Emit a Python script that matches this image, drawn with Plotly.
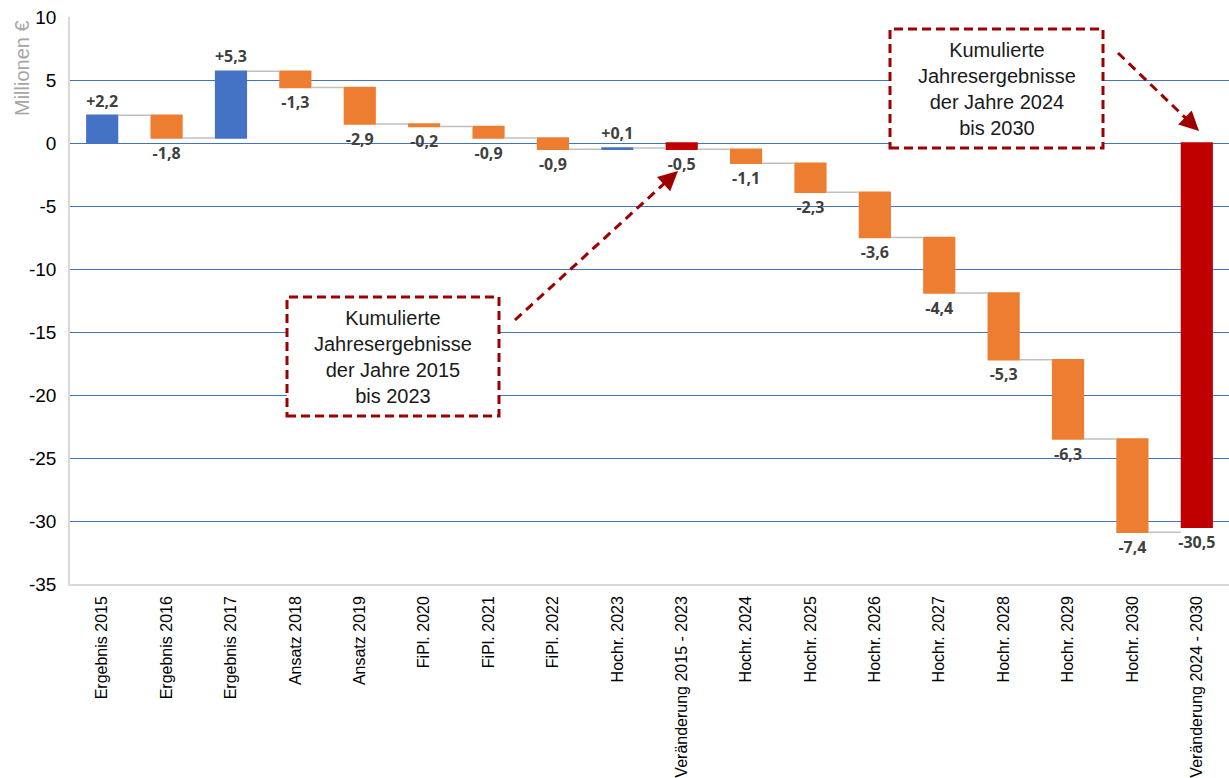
import plotly.graph_objects as go
import math

categories = ["Ergebnis 2015", "Ergebnis 2016", "Ergebnis 2017", "Ansatz 2018", "Ansatz 2019",
              "FiPl. 2020", "FiPl. 2021", "FiPl. 2022", "Hochr. 2023", "Veränderung 2015 - 2023",
              "Hochr. 2024", "Hochr. 2025", "Hochr. 2026", "Hochr. 2027", "Hochr. 2028",
              "Hochr. 2029", "Hochr. 2030", "Veränderung 2024 - 2030"]
values = [2.2, -1.8, 5.3, -1.3, -2.9, -0.2, -0.9, -0.9, 0.1, -0.5,
          -1.1, -2.3, -3.6, -4.4, -5.3, -6.3, -7.4, -30.5]
measures = ["relative"] * 9 + ["absolute"] + ["relative"] * 7 + ["absolute"]
ytick_vals = [10, 5, 0, -5, -10, -15, -20, -25, -30, -35]
ytick_text = ["10", "5", "0", "-5", "-10", "-15", "-20", "-25", "-30", "-35"]
box1_text = "Kumulierte<br>Jahresergebnisse<br>der Jahre 2015<br>bis 2023"
box2_text = "Kumulierte<br>Jahresergebnisse<br>der Jahre 2024<br>bis 2030"


def fmt(v):
    s = f"{v:.1f}".replace(".", ",")
    if v > 0:
        s = "+" + s
    return s


labels = [fmt(v) for v in values]

W, H = 1229, 778
L, R, T, B = 70, 0, 17, 194
PW, PH = W - L - R, H - T - B


def px(x):
    return (x - L) / PW


def py(y):
    return (H - B - y) / PH


BLUE, ORANGE, RED = "#4472C4", "#ED7D31", "#C00000"
DARKRED = "#9E0000"
FONT = "Liberation Sans, Arial, sans-serif"

fig = go.Figure(go.Waterfall(
    x=categories, y=values, measure=measures,
    text=labels, textposition="outside", constraintext="none", cliponaxis=False,
    textfont=dict(family="Open Sans, sans-serif", size=16, color="#404040", weight="bold"),
    increasing=dict(marker=dict(color=BLUE)),
    decreasing=dict(marker=dict(color=ORANGE)),
    totals=dict(marker=dict(color=RED)),
    connector=dict(mode="between", line=dict(color="#BFBFBF", width=1.5)),
    hoverinfo="skip",
))

shapes = []
annotations = []

# boxes
for (x0, y0, x1, y1), txt in [((287, 297, 499, 416), box1_text), ((890, 29, 1103, 148), box2_text)]:
    shapes.append(dict(type="rect", xref="paper", yref="paper",
                       x0=px(x0), x1=px(x1), y0=py(y1), y1=py(y0),
                       line=dict(color=DARKRED, width=3, dash="9px,5px"),
                       fillcolor="white", layer="above"))
    annotations.append(dict(xref="paper", yref="paper", x=px((x0 + x1) / 2), y=py((y0 + y1) / 2),
                            text=txt, showarrow=False, xanchor="center", yanchor="middle",
                            font=dict(family=FONT, size=20, color="#1a1a1a")))

# arrows
for (sx, sy, tx, ty) in [(515, 320, 678, 171), (1118, 53, 1199, 131)]:
    dx, dy = tx - sx, ty - sy
    ln = math.hypot(dx, dy)
    ux, uy = dx / ln, dy / ln
    shapes.append(dict(type="line", xref="paper", yref="paper",
                       x0=px(sx), y0=py(sy), x1=px(tx - ux * 12), y1=py(ty - uy * 12),
                       line=dict(color=DARKRED, width=3, dash="9px,6px")))
    annotations.append(dict(xref="paper", yref="paper", x=px(tx), y=py(ty), text="",
                            showarrow=True, arrowhead=2, arrowsize=1.3, arrowwidth=3,
                            arrowcolor=DARKRED, ax=-ux * 14, ay=-uy * 14))

# y-axis title
annotations.append(dict(xref="paper", yref="paper", x=px(22), y=py(68), text="Millionen €",
                        textangle=-90, showarrow=False, xanchor="center", yanchor="middle",
                        font=dict(family=FONT, size=20, color="#A6A6A6")))

fig.update_layout(
    width=W, height=H,
    margin=dict(l=L, r=R, t=T, b=B),
    paper_bgcolor="white", plot_bgcolor="white",
    showlegend=False,
    waterfallgap=0.5,
    shapes=shapes, annotations=annotations,
    font=dict(family=FONT),
    xaxis=dict(tickangle=-90, tickfont=dict(family=FONT, size=16, color="#000000"),
               showline=True, linecolor="#D9D9D9", linewidth=1.5, showgrid=False,
               ticks="", ticklabelstandoff=4),
    yaxis=dict(range=[-35, 10], tickvals=ytick_vals, ticktext=ytick_text,
               tickfont=dict(family=FONT, size=19, color="#000000"),
               showgrid=True, gridcolor="#4472C4", gridwidth=1.2,
               zeroline=True, zerolinecolor="#4472C4", zerolinewidth=1.2,
               showline=True, linecolor="#D9D9D9", linewidth=1.5, ticks="",
               ticklabelstandoff=8),
)

fig.write_html("out.html")
